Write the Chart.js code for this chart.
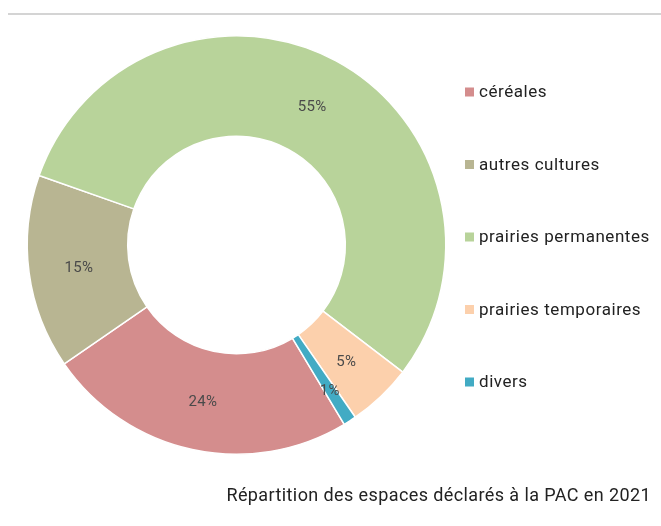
<!DOCTYPE html>
<html>
<head>
<meta charset="utf-8">
<script src="https://cdn.jsdelivr.net/npm/chart.js@4/dist/chart.umd.min.js"></script>
<style>
  html, body { margin: 0; padding: 0; background: #fff; }
  #wrap { position: relative; width: 661px; height: 526px; }
  #rule { position: absolute; left: 8px; right: 0; top: 13px; height: 2px; background: #d4d4d4; }
  canvas { position: absolute; left: 0; top: 0; }
</style>
</head>
<body>
<div id="wrap">
  <canvas id="c" width="661" height="526"></canvas>
  <div id="rule"></div>
</div>
<script>
// Répartition des surfaces déclarées à la PAC (2021), en %
const categories = ['céréales', 'autres cultures', 'prairies permanentes', 'prairies temporaires', 'divers'];
const shares = [24, 15, 55, 5, 1];
const colors = ['#d48d8d', '#b8b592', '#b8d39a', '#fcd0ac', '#42abc4'];
const caption = 'Répartition des espaces déclarés à la PAC en 2021';

const FONT = 'Roboto, "DejaVu Sans", sans-serif';

// Percent labels placed at the middle of each ring segment;
// very thin segments get their label pushed a little outward
const sliceLabels = {
  id: 'sliceLabels',
  afterDatasetsDraw(chart) {
    const ctx = chart.ctx;
    const meta = chart.getDatasetMeta(0);
    ctx.save();
    ctx.font = '15px ' + FONT;
    ctx.letterSpacing = '0.3px';
    ctx.fillStyle = '#4a4a4a';
    ctx.textAlign = 'center';
    ctx.textBaseline = 'middle';
    meta.data.forEach((arc, i) => {
      const { x, y, startAngle, endAngle, innerRadius, outerRadius } = arc.getProps(
        ['x', 'y', 'startAngle', 'endAngle', 'innerRadius', 'outerRadius'], true);
      const mid = (startAngle + endAngle) / 2;
      const thin = (endAngle - startAngle) < 0.1;
      const r = (innerRadius + outerRadius) / 2 + (thin ? 13 : 0);
      ctx.fillText(shares[i] + '%', x + Math.cos(mid) * r, y + Math.sin(mid) * r + 2);
    });
    ctx.restore();
  }
};

// Legend on the right and caption at the bottom
const sideLegend = {
  id: 'sideLegend',
  afterDraw(chart) {
    const ctx = chart.ctx;
    const items = chart.options.plugins.legend.labels.generateLabels(chart);
    const x0 = 465, y0 = 92, step = 72.5, box = 9;
    ctx.save();
    ctx.font = '17px ' + FONT;
    ctx.letterSpacing = '0.55px';
    ctx.textBaseline = 'middle';
    ctx.textAlign = 'left';
    items.forEach((it, i) => {
      const y = y0 + i * step;
      ctx.fillStyle = it.fillStyle;
      ctx.fillRect(x0, y - box / 2, box, box);
      ctx.fillStyle = '#222';
      ctx.fillText(it.text, x0 + 14, y + 1);
    });
    ctx.font = '18px ' + FONT;
    ctx.letterSpacing = '0.4px';
    ctx.textAlign = 'right';
    ctx.fillStyle = '#222';
    ctx.fillText(caption, 651, 496);
    ctx.restore();
  }
};

new Chart(document.getElementById('c'), {
  type: 'doughnut',
  data: {
    labels: categories,
    datasets: [{
      data: shares,
      backgroundColor: colors,
      borderColor: '#ffffff',
      borderWidth: 1.5,
      hoverOffset: 0
    }]
  },
  options: {
    responsive: false,
    animation: false,
    rotation: 149,
    cutout: '52%',
    layout: { padding: { left: 26, right: 214, top: 35, bottom: 71 } },
    plugins: {
      legend: { display: false },
      tooltip: { enabled: false },
      title: { display: false }
    },
    events: []
  },
  plugins: [sliceLabels, sideLegend]
});
</script>
</body>
</html>
